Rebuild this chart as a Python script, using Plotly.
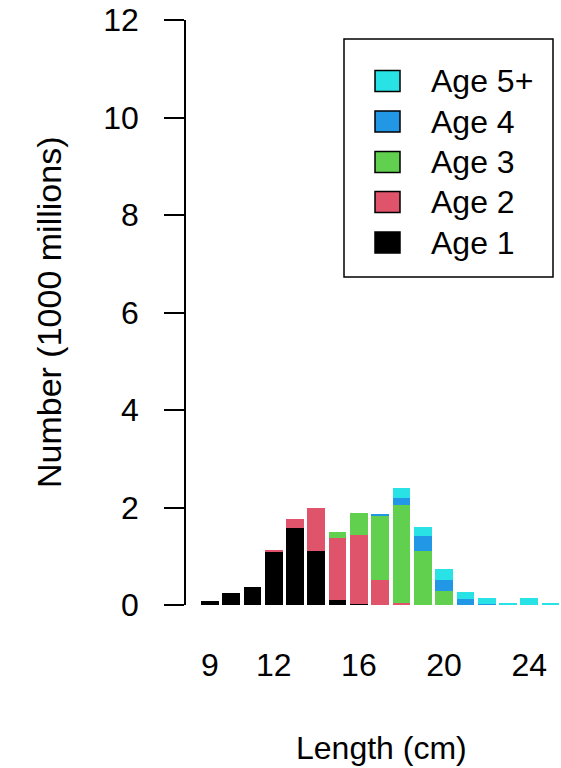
import plotly.graph_objects as go

# Length classes (cm) and numbers at age (1000 millions)
lengths = list(range(9, 26))
age1 = [0.08, 0.25, 0.37, 1.09, 1.57, 1.11, 0.10, 0.03, 0.01, 0, 0, 0, 0, 0, 0, 0, 0]
age2 = [0, 0, 0, 0.04, 0.19, 0.88, 1.28, 1.41, 0.51, 0.05, 0, 0, 0, 0, 0, 0, 0]
age3 = [0, 0, 0, 0, 0, 0, 0.12, 0.45, 1.31, 2.00, 1.11, 0.28, 0, 0, 0, 0, 0]
age4 = [0, 0, 0, 0, 0, 0, 0, 0, 0.04, 0.14, 0.31, 0.23, 0.12, 0.02, 0, 0, 0]
age5 = [0, 0, 0, 0, 0, 0, 0, 0, 0, 0.21, 0.17, 0.23, 0.15, 0.12, 0.03, 0.14, 0.05]

series = [age1, age2, age3, age4, age5]
names = ["Age 1", "Age 2", "Age 3", "Age 4", "Age 5+"]
colors = ["#000000", "#DF536B", "#61D04F", "#2297E6", "#28E2E5"]

x_ticks = [9, 12, 16, 20, 24]
y_ticks = [0, 2, 4, 6, 8, 10, 12]

FONT = "Liberation Sans, Arial, sans-serif"
FS = 32

# page geometry (pixels)
W, H = 561, 768
L, R, T, B = 186, 0, 20, 163
PW, PH = W - L - R, H - T - B


def px_x(p):
    return (p - L) / PW


def px_y(p):
    return (H - B - p) / PH


fig = go.Figure()
for vals, name, col in zip(series, names, colors):
    fig.add_trace(go.Bar(x=lengths, y=vals, name=name,
                         marker=dict(color=col, line=dict(width=0)),
                         showlegend=False))

fig.update_layout(
    width=W, height=H,
    margin=dict(l=L, r=R, t=T, b=B, pad=0),
    barmode="stack", bargap=0.1667,
    plot_bgcolor="white", paper_bgcolor="white",
    font=dict(family=FONT, size=FS, color="black"),
    xaxis=dict(range=[7.883, 25.488], tickvals=x_ticks,
               ticktext=[str(v) for v in x_ticks],
               showline=False, showgrid=False, zeroline=False,
               ticks="outside", ticklen=32, tickcolor="rgba(0,0,0,0)",
               tickfont=dict(size=FS)),
    yaxis=dict(range=[0, 12], tickvals=y_ticks,
               showline=True, linecolor="black", linewidth=1.5,
               showgrid=False, zeroline=False,
               ticks="outside", ticklen=20, tickwidth=1.5, tickcolor="black",
               ticklabelstandoff=19, tickfont=dict(size=FS)),
)

# axis titles
fig.add_annotation(text="Length (cm)", xref="paper", yref="paper",
                   x=px_x(381), y=px_y(748), xanchor="center", yanchor="middle",
                   showarrow=False, font=dict(size=FS))
fig.add_annotation(text="Number (1000 millions)", xref="paper", yref="paper",
                   x=px_x(49), y=px_y(313), xanchor="center", yanchor="middle",
                   textangle=-90, showarrow=False, font=dict(size=34))

# legend box with swatches, top row = oldest group
fig.add_shape(type="rect", xref="paper", yref="paper",
              x0=px_x(344), x1=px_x(553), y0=px_y(277), y1=px_y(39),
              line=dict(color="black", width=1.5), fillcolor="rgba(0,0,0,0)")
row_centers = [81, 121.5, 162, 202, 242.5]
for i, (name, col) in enumerate(zip(names[::-1], colors[::-1])):
    cy = row_centers[i]
    fig.add_shape(type="rect", xref="paper", yref="paper",
                  x0=px_x(375), x1=px_x(400), y0=px_y(cy + 10.5), y1=px_y(cy - 10.5),
                  line=dict(color="black", width=1.5), fillcolor=col)
    fig.add_annotation(text=name, xref="paper", yref="paper",
                       x=px_x(429), y=px_y(cy), xanchor="left", yanchor="middle",
                       showarrow=False, font=dict(size=FS))

fig.write_html("out.html")
